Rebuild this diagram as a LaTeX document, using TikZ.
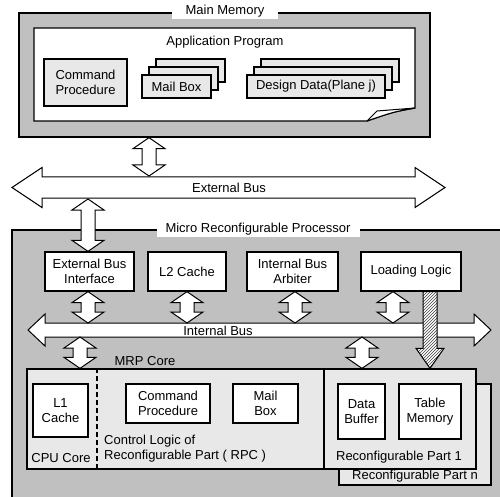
\documentclass[tikz,border=0pt]{standalone}
\usepackage{fontspec}
\setmainfont{Liberation Sans}
\usetikzlibrary{calc,patterns}
\definecolor{outgray}{RGB}{192,192,192}
\definecolor{boxgray}{RGB}{232,232,232}
% fat vertical double arrow: x, upper end, lower end
\newcommand{\vlink}[3]{%
  \draw[link] let \p1=(#2), \p2=(#3) in
    (#1pt,\y1) -- (#1pt+16pt,\y1-11pt) -- (#1pt+7pt,\y1-11pt) -- (#1pt+7pt,\y2+11pt)
    -- (#1pt+16pt,\y2+11pt) -- (#1pt,\y2) -- (#1pt-16pt,\y2+11pt) -- (#1pt-7pt,\y2+11pt)
    -- (#1pt-7pt,\y1-11pt) -- (#1pt-16pt,\y1-11pt) -- cycle;}
% fat down arrow: x, upper end, lower end
\newcommand{\downarr}[3]{%
  \draw[hatch] let \p1=(#2), \p2=(#3) in
    (#1pt-7pt,\y1) -- (#1pt+7pt,\y1) -- (#1pt+7pt,\y2+20pt) -- (#1pt+14pt,\y2+20pt)
    -- (#1pt,\y2) -- (#1pt-14pt,\y2+20pt) -- (#1pt-7pt,\y2+20pt) -- cycle;}
% horizontal bus: left tip, right tip, shaft half width, head half width, head length
\newcommand{\hbus}[5]{%
  \draw[link] let \p1=(#1), \p2=(#2) in
    (\x1,\y1) -- (\x1+#5,\y1+#4) -- (\x1+#5,\y1+#3) -- (\x2-#5,\y1+#3) -- (\x2-#5,\y1+#4)
    -- (\x2,\y1) -- (\x2-#5,\y1-#4) -- (\x2-#5,\y1-#3) -- (\x1+#5,\y1-#3) -- (\x1+#5,\y1-#4) -- cycle;}

\begin{document}
\begin{tikzpicture}[
  x=1pt, y=-1pt,
  font=\fontsize{13}{15}\selectfont,
  memframe/.style={draw, line width=1.3pt, fill=outgray},
  blk/.style={draw, line width=1.3pt, fill=white, align=center, inner sep=1pt},
  gblk/.style={blk, fill=boxgray},
  ttl/.style={fill=white, inner sep=2pt},
  link/.style={draw, line width=1pt, fill=white},
  hatch/.style={draw, line width=1pt, preaction={fill=white}, pattern=north east lines, pattern color=black!75},
  lab/.style={inner sep=0pt, align=left}
]
\path[use as bounding box, clip] (0,0) rectangle (500,497);

% main memory
\node[memframe, minimum width=411pt, minimum height=124pt] (mainmem) at (224.5,75) {};
\node[ttl, minimum width=106pt] (mmtitle) at (225,11) {Main Memory};
\draw[line width=1.3pt, fill=white] (34,28) -- (415,28) -- (415,108) .. controls (393,112) .. (367,121) -- (34,121) -- cycle;
\draw[line width=1pt, fill=white] (367,121) -- (377,111) -- (415,108) .. controls (393,112) .. (367,121);
\node[lab] (apptitle) at (225,42) {Application Program};
\node[gblk, minimum width=83pt, minimum height=47pt] (cmdmem) at (85.5,82.5) {Command\\Procedure};
\foreach \dx/\dy in {14/16,7/8} {
  \node[gblk, minimum width=69pt, minimum height=23pt] (mbox\dx) at (176.5+\dx,86.5-\dy) {};
  \node[gblk, minimum width=138pt, minimum height=23pt] (ddata\dx) at (316+\dx,86.5-\dy) {};
}
\node[gblk, minimum width=69pt, minimum height=23pt] (mboxmem) at (176.5,86.5) {Mail Box};
\node[gblk, minimum width=138pt, minimum height=23pt] (ddata) at (316,86.5) {Design Data(Plane j)};

% external bus
\coordinate (eb-l) at (12,187.5);
\coordinate (eb-r) at (445,187.5);
\coordinate (ebtop) at (0,176);
\coordinate (ebbot) at (0,199);
\hbus{eb-l}{eb-r}{10.5pt}{20pt}{30pt}
\node[lab] (eblab) at (229,188) {External Bus};

% micro reconfigurable processor
\draw[memframe] (12,230) rectangle (510,510);
\node[ttl, minimum width=203pt] (mrptitle) at (258,229) {Micro Reconfigurable Processor};
\node[gblk, minimum width=152pt, minimum height=101pt] (rpn) at (415,434.5) {};
\node[lab] (rpnlab) at (415,476) {Reconfigurable Part n};
\node[gblk, minimum width=152pt, minimum height=100pt] (rp1) at (400,419) {};
\node[lab] (rp1lab) at (399,457) {Reconfigurable Part 1};
\node[gblk, minimum width=297pt, minimum height=100pt] (core) at (175.5,419) {};
\draw[line width=1.3pt, dash pattern=on 5pt off 3pt] (core.north -| 97,0) -- (core.south -| 97,0);
\node[lab] (corelab) at (145,361) {MRP Core};
\node[lab] (cpulab) at (61,458) {CPU Core};
\node[lab, anchor=west] (rpclab) at (104,448.5) {Control Logic of\\Reconfigurable Part ( RPC )};

\node[blk, minimum width=89pt, minimum height=39pt] (ebi) at (89.5,271.5) {External Bus\\Interface};
\node[blk, minimum width=78pt, minimum height=39pt] (l2) at (187,271.5) {L2 Cache};
\node[blk, minimum width=91pt, minimum height=39pt] (arb) at (292.5,271.5) {Internal Bus\\Arbiter};
\node[blk, minimum width=100pt, minimum height=39pt] (load) at (411,271.5) {Loading Logic};

\node[blk, minimum width=55pt, minimum height=53pt] (l1) at (60.5,410.5) {L1\\Cache};
\node[blk, minimum width=84pt, minimum height=39pt] (cmdrpc) at (168,403.5) {Command\\Procedure};
\node[blk, minimum width=65pt, minimum height=39pt] (mboxrpc) at (265.5,403.5) {Mail\\Box};
\node[blk, minimum width=47pt, minimum height=55pt] (dbuf) at (361.5,411.5) {Data\\Buffer};
\node[blk, minimum width=62pt, minimum height=55pt] (tmem) at (430,411.5) {Table\\Memory};

% internal bus
\coordinate (ib-l) at (28,330);
\coordinate (ib-r) at (491,330);
\coordinate (ibtop) at (0,323);
\coordinate (ibbot) at (0,337);
\hbus{ib-l}{ib-r}{7pt}{16pt}{17pt}
\node[lab] (iblab) at (218,331) {Internal Bus};

% links
\vlink{149}{mainmem.south}{ebtop}
\vlink{88}{ebbot}{ebi.north}
\vlink{88}{ebi.south}{ibtop}
\vlink{187}{l2.south}{ibtop}
\vlink{295}{arb.south}{ibtop}
\vlink{393}{load.south}{ibtop}
\vlink{80}{ibbot}{core.north}
\vlink{362}{ibbot}{rp1.north}
\downarr{430}{load.south}{rp1.north}
\end{tikzpicture}
\end{document}
